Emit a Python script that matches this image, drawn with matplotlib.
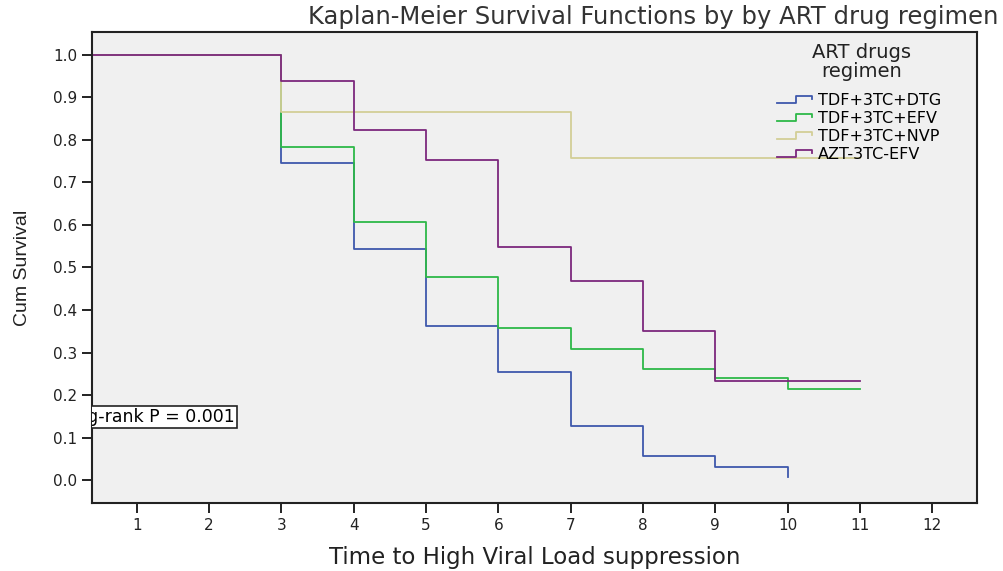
import matplotlib
matplotlib.use("Agg")
import matplotlib.pyplot as plt
from matplotlib.lines import Line2D
from matplotlib.legend_handler import HandlerBase

plt.rcParams['font.family'] = ['DejaVu Sans']

# survival step data
t_dtg = [0, 3, 4, 5, 6, 7, 8, 9, 10]
s_dtg = [1.0, 0.746, 0.544, 0.362, 0.255, 0.128, 0.057, 0.031, 0.008]

t_efv = [0, 3, 4, 5, 6, 7, 8, 9, 10, 11]
s_efv = [1.0, 0.784, 0.608, 0.478, 0.358, 0.308, 0.261, 0.239, 0.213, 0.213]

t_nvp = [0, 3, 7, 11]
s_nvp = [1.0, 0.865, 0.757, 0.757]

t_azt = [0, 3, 4, 5, 6, 7, 8, 9, 11]
s_azt = [1.0, 0.939, 0.823, 0.754, 0.548, 0.469, 0.351, 0.234, 0.234]

labels = ['TDF+3TC+DTG', 'TDF+3TC+EFV', 'TDF+3TC+NVP', 'AZT-3TC-EFV']
colors = ['#3E58AC', '#2EB848', '#D3CE97', '#7C287D']

x_ticks = list(range(1, 13))
y_ticks = [0.0, 0.1, 0.2, 0.3, 0.4, 0.5, 0.6, 0.7, 0.8, 0.9, 1.0]


class StepHandler(HandlerBase):
    # little step icon like the SPSS legend
    def create_artists(self, legend, orig_handle, xdescent, ydescent,
                       width, height, fontsize, trans):
        x0, x1 = -xdescent, -xdescent + width
        xm = x0 + 0.55 * width
        ylo = -ydescent + 0.2 * height
        yhi = -ydescent + 0.8 * height
        line = Line2D([x0, xm, xm, x1, x1], [ylo, ylo, yhi, yhi, yhi - 0.25 * height],
                      color=orig_handle.get_color(), lw=1.3)
        line.set_transform(trans)
        return [line]


fig = plt.figure(figsize=(10.04, 5.71), dpi=100)
ax = fig.add_axes([0.0919, 0.1191, 0.9731 - 0.0919, 0.944 - 0.1191])
ax.set_facecolor('#f0f0f0')

series = [(t_dtg, s_dtg), (t_efv, s_efv), (t_nvp, s_nvp), (t_azt, s_azt)]
handles = []
for (t, s), lab, c in zip(series, labels, colors):
    h, = ax.plot(t, s, drawstyle='steps-post', color=c, lw=1.3, label=lab)
    handles.append(h)

ax.set_xlim(0.385, 12.62)
ax.set_ylim(-0.054, 1.054)
ax.set_xticks(x_ticks)
ax.set_yticks(y_ticks)
ax.set_yticklabels(['%.1f' % v for v in y_ticks])
ax.tick_params(direction='out', length=7, width=1.4, labelsize=11, colors='#222222', pad=4)

for sp in ax.spines.values():
    sp.set_linewidth(1.5)
    sp.set_color('#222222')

ax.set_xlabel('Time to High Viral Load suppression', fontsize=16.5, color='#222222', labelpad=9)
ax.set_ylabel('Cum Survival', fontsize=14, color='#222222', labelpad=16,
              family='Liberation Sans')

fig.text(0.994, 1 - 24 / 571, 'Kaplan-Meier Survival Functions by by ART drug regimen',
         ha='right', va='baseline', fontsize=17.5, color='#333333')

# log-rank annotation, clipped by the left frame like the original
ax.text(2.36, 0.148, 'Log-rank P = 0.001', ha='right', va='center', fontsize=12.5,
        bbox=dict(boxstyle='square,pad=0.12', fc='white', ec='#222222', lw=1.2),
        clip_on=True)

# legend title drawn separately so the gap above the entries can match
ax.text(0.870, 0.937, 'ART drugs\nregimen', transform=ax.transAxes, ha='center', va='center',
        multialignment='center', fontsize=14, color='#222222', linespacing=1.0)

leg = ax.legend(handles=handles, labels=labels,
                loc='upper left', bbox_to_anchor=(0.765, 0.887), borderpad=0,
                frameon=False, fontsize=11.5,
                handler_map={Line2D: StepHandler()},
                handlelength=2.2, handletextpad=0.35, labelspacing=0.18)

fig.savefig('out.png', dpi=100)
